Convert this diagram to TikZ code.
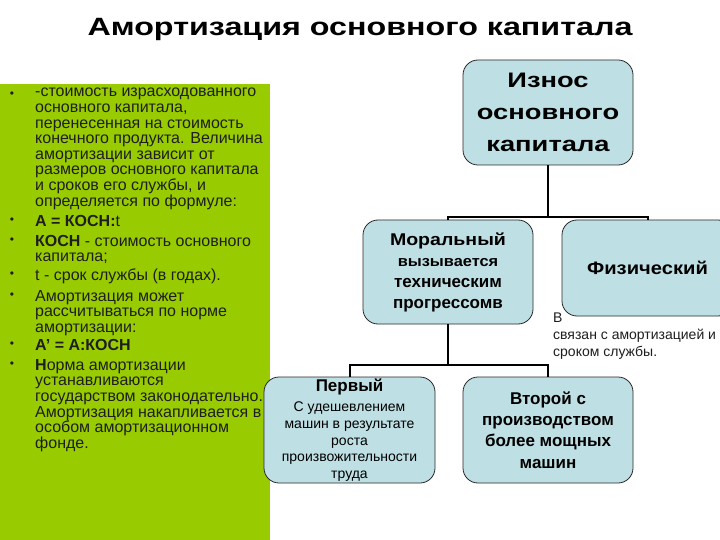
\documentclass[tikz,border=0pt]{standalone}
\usepackage{fontspec}
\setmainfont{Liberation Sans}
\newfontfamily\titlef[FakeStretch=1.29]{Liberation Sans}
\newfontfamily\topf[FakeStretch=1.3]{Liberation Sans}
\newfontfamily\moralf[FakeStretch=1.15]{Liberation Sans}
\newfontfamily\moralg[FakeStretch=1.09]{Liberation Sans}
\newfontfamily\physf[FakeStretch=1.12]{Liberation Sans}
\definecolor{panelgreen}{RGB}{153,204,0}
\definecolor{boxfill}{RGB}{190,224,228}
\definecolor{boxline}{RGB}{40,40,40}
\definecolor{txt}{RGB}{30,30,30}
\begin{document}
\begin{tikzpicture}[x=1pt,y=-1pt,
  box/.style={draw=boxline,line width=0.8pt,fill=boxfill,rounded corners=15pt,align=center,inner sep=0pt},
  para/.style={anchor=north west,inner sep=0pt,align=left,text=txt,font=\fontsize{16}{15.6}\selectfont},
  bul/.style={anchor=center,inner sep=0pt,text=txt,font=\fontsize{12}{12}\selectfont},
  conn/.style={line width=2pt,black}]
\useasboundingbox (0,0) rectangle (720,540);
\fill[white] (0,0) rectangle (720,540);
% title
\node[font=\titlef\bfseries\fontsize{25}{25}\selectfont] (title) at (360,29) {Амортизация основного капитала};
% green panel
\fill[panelgreen] (0,84) rectangle (270,540);
% bullets
\foreach \yy [count=\i] in {95,221,241,275,296,345,365}
  \node[bul] (b\i) at (12,\yy) {•};
\node[para] (p1) at (35,88) {-стоимость израсходованного\\основного капитала,\\перенесенная на стоимость\\конечного продукта. Величина\\амортизации зависит от\\размеров основного капитала\\и сроков его службы, и\\определяется по формуле:};
\node[para] (p2) at (35,215) {\textbf{А = КОСН:}t};
\node[para] (p3) at (35,235) {\textbf{КОСН} - стоимость основного\\капитала;};
\node[para] (p4) at (35,269) {t - срок службы (в годах).};
\node[para] (p5) at (35,290) {Амортизация может\\рассчитываться по норме\\амортизации:};
\node[para] (p6) at (35,339) {\textbf{А{\char"0027} = А:КОСН}};
\node[para] (p7) at (35,359) {\textbf{Н}орма амортизации\\устанавливаются\\государством законодательно.\\Амортизация накапливается в\\особом амортизационном\\фонде.};
% text partly hidden behind "Физический"
\node[anchor=north west,inner sep=0pt,align=left,text=txt,font=\fontsize{14}{17}\selectfont] (note) at (553,313) {В\\связан с амортизацией и\\сроком службы.};
% boxes
\node[box,minimum width=170pt,minimum height=105pt,font=\topf\bfseries\fontsize{21}{32}\selectfont] (top) at (548,112.5) {Износ\\основного\\капитала};
\node[box,minimum width=170pt,minimum height=104pt,font=\bfseries\fontsize{17}{21}\selectfont] (moral) at (448,272) {{\moralf Моральный}\\\moralg\fontsize{15}{21}\selectfont вызывается\\техническим\\прогрессомв};
\node[box,minimum width=171pt,minimum height=96pt,font=\physf\bfseries\fontsize{18}{20}\selectfont] (phys) at (647.5,268) {Физический};
\node[box,minimum width=171pt,minimum height=106pt,font=\fontsize{14}{16.7}\selectfont] (first) at (349.5,430) {\textbf{\fontsize{17}{17}\selectfont Первый}\\[4pt]С удешевлением\\машин в результате\\роста\\произвожительности\\труда};
\node[box,minimum width=170pt,minimum height=106pt,font=\bfseries\fontsize{17}{21.3}\selectfont] (second) at (548,430) {Второй с\\производством\\более мощных\\машин};
% connectors
\coordinate (j1) at (548,217);
\coordinate (j2) at (448,365);
\draw[conn] (top.south) -- (j1);
\draw[conn] (j1) -| (moral.north);
\draw[conn] (j1) -| (phys.north);
\draw[conn] (moral.south) -- (j2);
\draw[conn] (j2) -| (first.north);
\draw[conn] (j2) -| (second.north);
\end{tikzpicture}
\end{document}
